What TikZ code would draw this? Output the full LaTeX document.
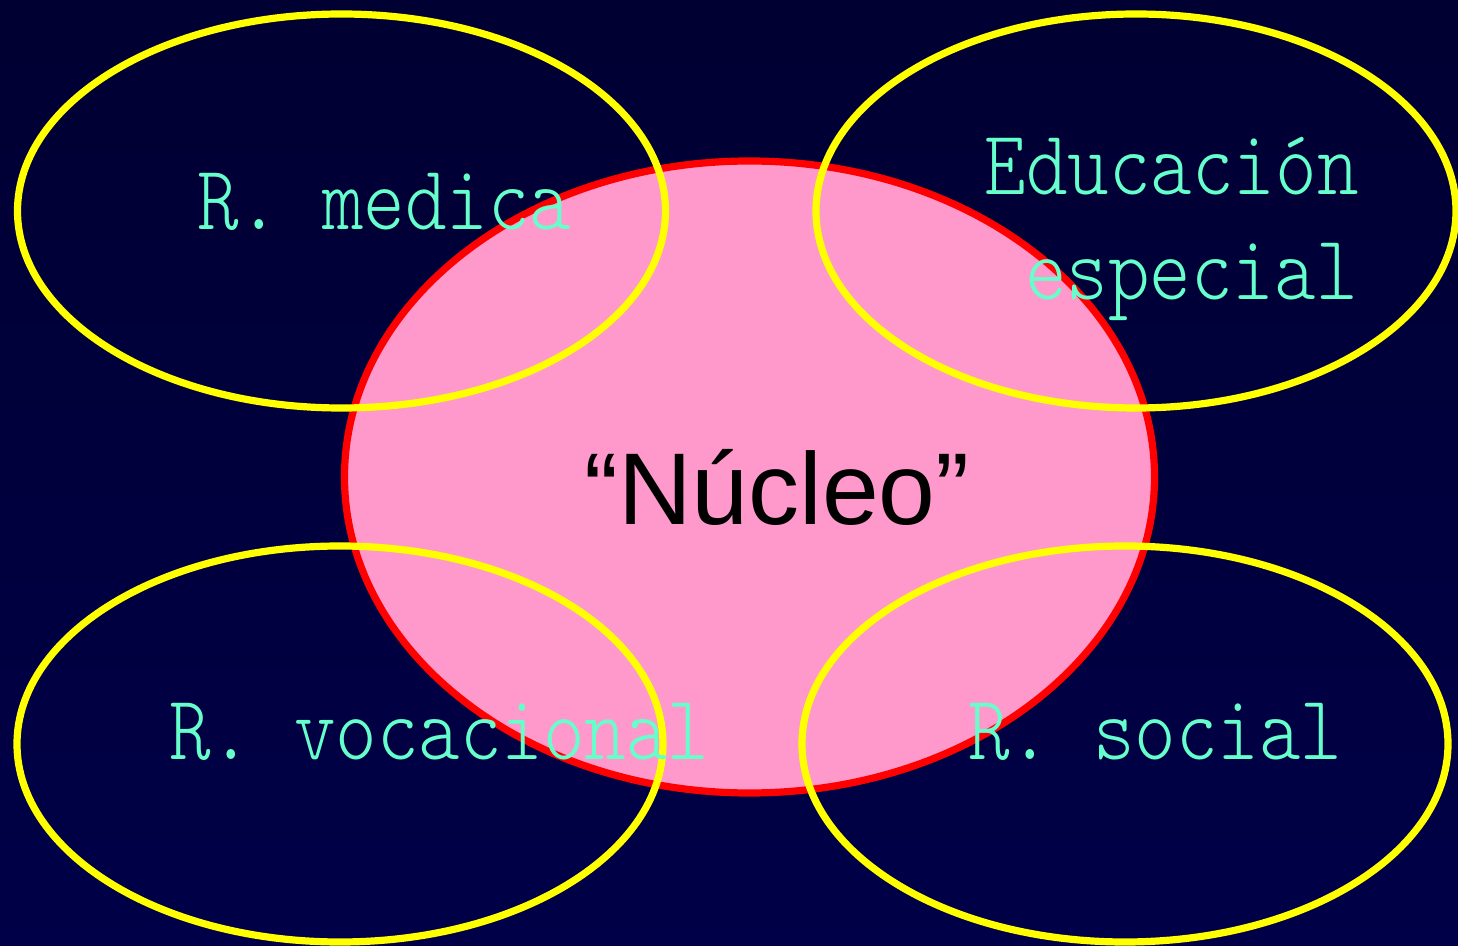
\documentclass[tikz,border=0pt]{standalone}
\usepackage{fontspec}
\newfontfamily\arialf{Liberation Sans}
\newfontfamily\lightmono{lmmonolt10-regular.otf}
\usetikzlibrary{shapes.geometric}
\definecolor{bgtop}{RGB}{0,0,50}
\definecolor{bgbot}{RGB}{0,0,72}
\definecolor{pinkfill}{RGB}{255,153,204}
\definecolor{ringyellow}{RGB}{255,255,0}
\definecolor{labelcol}{RGB}{102,255,204}
\tikzset{
  ring/.style={ellipse, draw=ringyellow, line width=3.6pt, inner sep=0pt, outer sep=0pt},
  core/.style={ellipse, draw=red, fill=pinkfill, line width=3.6pt, inner sep=0pt, outer sep=0pt},
  lbl/.style={text=labelcol, inner sep=0pt, font=\lightmono\fontsize{46}{52}\selectfont},
}
\newcommand{\nar}[1]{\scalebox{0.86}[1]{#1}}
\begin{document}
\begin{tikzpicture}[x=0.5pt,y=-0.5pt]
\useasboundingbox (0,0) rectangle (1458,946);
\shade[top color=bgtop, bottom color=bgbot] (0,0) rectangle (1458,946);
\node[core, minimum width=405pt, minimum height=316pt] (nucleo) at (749.5,477) {};
\node[anchor=base, inner sep=0pt, font=\arialf\fontsize{51}{56}\selectfont] (nucleotext) at (777,525) {“Núcleo”};
\node[ring, minimum width=324pt, minimum height=197pt] (medica) at (341.5,211) {};
\node[ring, minimum width=320pt, minimum height=197pt] (educ) at (1136,211) {};
\node[ring, minimum width=323pt, minimum height=198pt] (vocac) at (340,744) {};
\node[ring, minimum width=323pt, minimum height=198pt] (social) at (1125,744) {};
\node[lbl, anchor=base west] (medicatext) at (197,230) {\nar{R.\ medica}};
\node[lbl, anchor=base east] (edutext) at (1359,195) {\nar{Educación}};
\node[lbl, anchor=base east] (esptext) at (1358,300) {\nar{especial}};
\node[lbl, anchor=base west] (vocactext) at (169,760) {\nar{R.\ vocacional}};
\node[lbl, anchor=base west] (socialtext) at (968,760) {\nar{R.\ social}};
\end{tikzpicture}
\end{document}
